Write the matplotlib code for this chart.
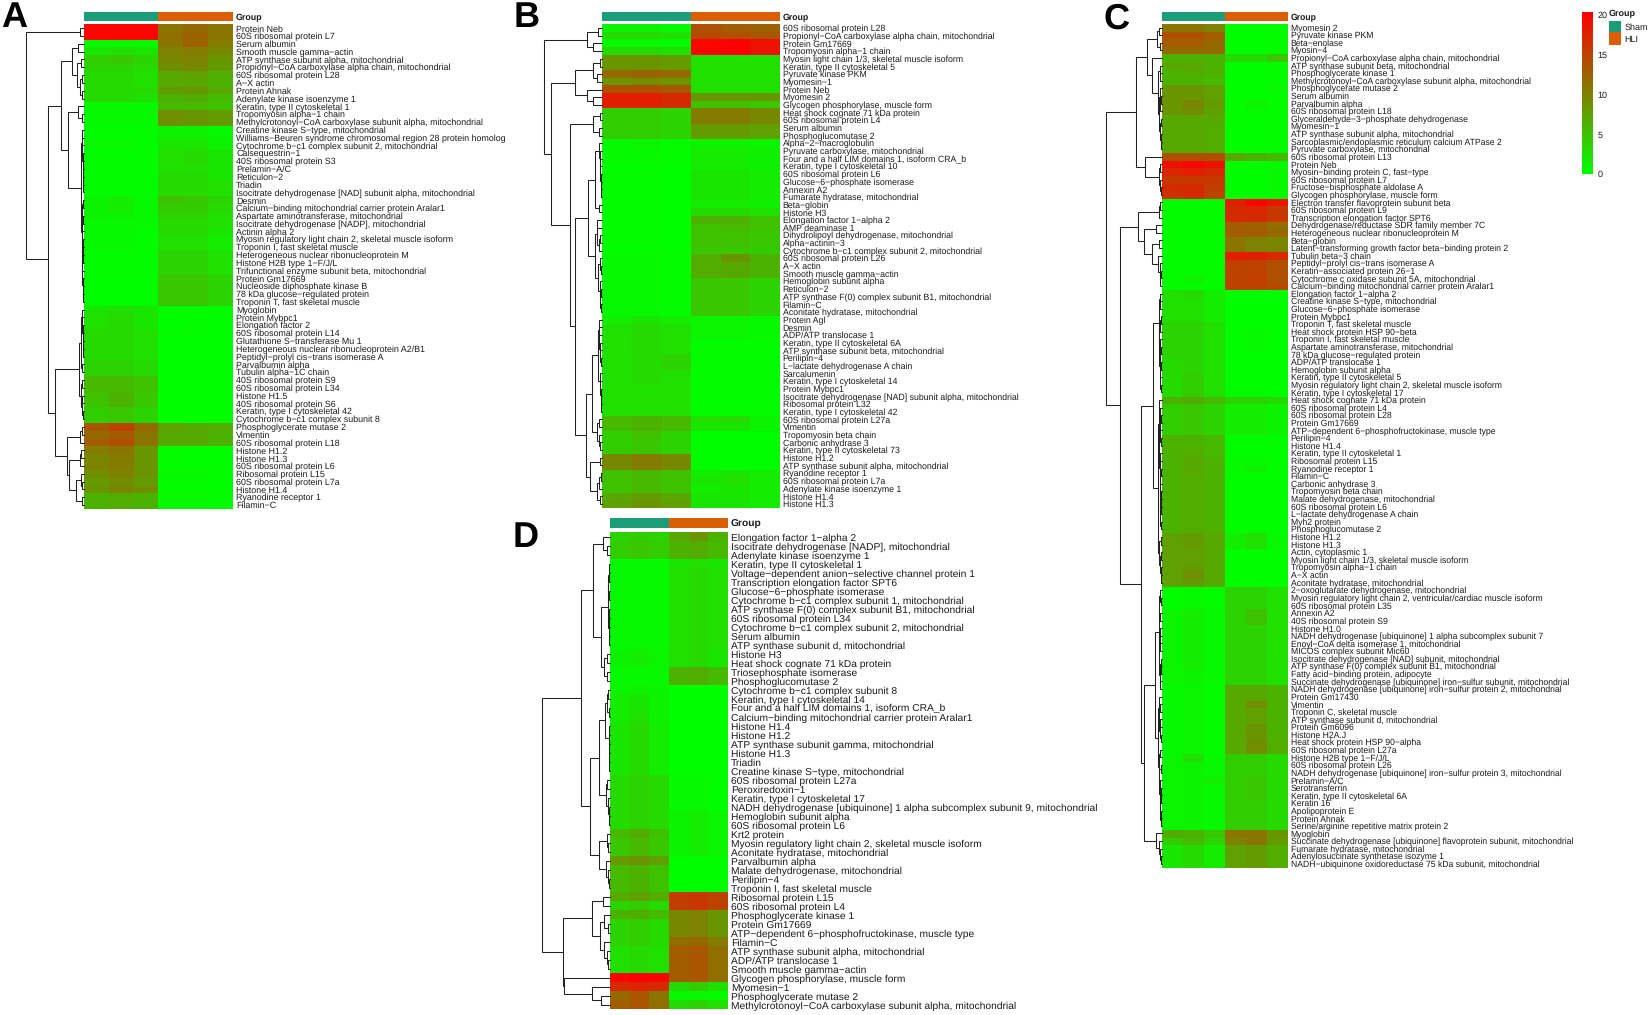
import matplotlib
matplotlib.use("Agg")
import matplotlib.pyplot as plt
from matplotlib.colors import LinearSegmentedColormap, ListedColormap
import numpy as np

W, H = 1649, 1015
plt.rcParams['font.family'] = ['Liberation Sans', 'DejaVu Sans']
plt.rcParams['text.hinting'] = 'none'

GROUPS = ["Sham", "HLI"]
GROUP_COLORS = ["#1B9E77", "#D95F02"]
CBAR_TICKS = [0, 5, 10, 15, 20]

# Panel A
labels_a = [
    "Protein Neb", "60S ribosomal protein L7", "Serum albumin", "Smooth muscle gamma-actin",
    "ATP synthase subunit alpha, mitochondrial", "Propionyl-CoA carboxylase alpha chain, mitochondrial",
    "60S ribosomal protein L28", "A-X actin", "Protein Ahnak", "Adenylate kinase isoenzyme 1",
    "Keratin, type II cytoskeletal 1", "Tropomyosin alpha-1 chain",
    "Methylcrotonoyl-CoA carboxylase subunit alpha, mitochondrial", "Creatine kinase S-type, mitochondrial",
    "Williams-Beuren syndrome chromosomal region 28 protein homolog",
    "Cytochrome b-c1 complex subunit 2, mitochondrial", "Calsequestrin-1", "40S ribosomal protein S3",
    "Prelamin-A/C", "Reticulon-2", "Triadin", "Isocitrate dehydrogenase [NAD] subunit alpha, mitochondrial",
    "Desmin", "Calcium-binding mitochondrial carrier protein Aralar1", "Aspartate aminotransferase, mitochondrial",
    "Isocitrate dehydrogenase [NADP], mitochondrial", "Actinin alpha 2",
    "Myosin regulatory light chain 2, skeletal muscle isoform", "Troponin I, fast skeletal muscle",
    "Heterogeneous nuclear ribonucleoprotein M", "Histone H2B type 1-F/J/L",
    "Trifunctional enzyme subunit beta, mitochondrial", "Protein Gm17669", "Nucleoside diphosphate kinase B",
    "78 kDa glucose-regulated protein", "Troponin T, fast skeletal muscle", "Myoglobin", "Protein Mybpc1",
    "Elongation factor 2", "60S ribosomal protein L14", "Glutathione S-transferase Mu 1",
    "Heterogeneous nuclear ribonucleoprotein A2/B1", "Peptidyl-prolyl cis-trans isomerase A", "Parvalbumin alpha",
    "Tubulin alpha-1C chain", "40S ribosomal protein S9", "60S ribosomal protein L34", "Histone H1.5",
    "40S ribosomal protein S6", "Keratin, type I cytoskeletal 42", "Cytochrome b-c1 complex subunit 8",
    "Phosphoglycerate mutase 2", "Vimentin", "60S ribosomal protein L18", "Histone H1.2", "Histone H1.3",
    "60S ribosomal protein L6", "Ribosomal protein L15", "60S ribosomal protein L7a", "Histone H1.4",
    "Ryanodine receptor 1", "Filamin-C",
]
values_a = [
    [20, 20, 20, 11, 12, 11], [20, 20, 20, 11.5, 12.5, 11], [.5, .5, .5, 11, 12.5, 10.5], [2, 2.5, 2, 10, 10.5, 9.5],
    [4, 4.5, 3.5, 9.5, 10, 8.5], [3.5, 3.5, 3, 9, 9.5, 8], [3, 3, 2.5, 7, 7.5, 6.5], [3, 3, 2.5, 7, 7, 6],
    [3, 3, 3, 8, 8.5, 7], [3, 3, 2.5, 6, 6.5, 5.5], [.5, .5, .5, 5.5, 5.5, 5], [.5, .5, .5, 9, 8.5, 8],
    [.5, .5, .5, 9, 8.5, 8], [.3, .3, .3, 1, 1, .5], [.3, .3, .3, 1.5, 1.5, .8], [.5, .5, .3, 2, 2, 1],
    [.3, .3, .3, 2.5, 3, 2], [.3, .3, .3, 2.5, 3, 2], [.3, .3, .3, 2.5, 2.5, 2], [.3, .3, .3, 3, 3, 2],
    [.3, .3, .3, 3, 3, 2.5], [.3, .3, .3, 3, 3, 2.5], [1, 1.5, .5, 5, 4.5, 3.5], [1, 1.5, .5, 4, 4, 3],
    [1, 1, .5, 3.5, 3.5, 2.5], [.5, .5, .5, 3, 3, 2.5], [.5, .5, .3, 3, 3, 2], [.5, .5, .3, 2.5, 2.5, 1.5],
    [.5, .5, .3, 2.5, 2.5, 1.5], [.3, .3, .3, 3.5, 3.5, 2.5], [.3, .3, .3, 3.5, 3.5, 2.5], [.3, .3, .3, 3.5, 3.5, 2.5],
    [.2, .2, .2, 4.5, 4.5, 3.5], [.2, .2, .2, 4.5, 4.5, 3.5], [.2, .2, .2, 4.5, 4.5, 3.5], [.2, .2, .2, 4.5, 4.5, 3.5],
    [2, 2.5, 2, .2, .2, .2], [2.5, 3, 2, .2, .2, .2], [2.5, 3, 2, .2, .3, .2], [3, 3, 2.5, .3, .3, .2],
    [3, 3, 2.5, .2, .2, .2], [3, 3, 2.5, .2, .2, .2], [3, 3, 2.5, .2, .2, .2], [3.5, 3.5, 3, .2, .2, .2],
    [3.5, 3.5, 3, .2, .2, .2], [5.5, 5.5, 5, .2, .2, .2], [5.5, 5.5, 5, .2, .2, .2], [5, 6, 4.5, .2, .2, .2],
    [5, 6, 4.5, .2, .2, .2], [4, 4.5, 3.5, .2, .2, .2], [4, 4.5, 3.5, .2, .2, .2],
    [13.5, 15, 12, 7.5, 7, 6.5], [12, 13, 11, 7, 7, 6], [13, 14, 11, 7, 7, 6], [10.5, 11, 8.5, .3, .2, .2],
    [9.5, 10.5, 8.5, .3, .2, .2], [10, 10.5, 8.5, .3, .2, .2], [9, 10, 8.5, .5, .5, .3], [8, 9, 8, .3, .3, .2],
    [8.5, 9.5, 9, .3, .3, .2], [6, 6.5, 6, .5, .5, .3], [6, 6.5, 6, .5, .5, .3],
]
gaps_a = [
    .07, 1.0, .1, .21, .05, .12, .03, .07, .03, .39, .11, .04, .28, .03, .035, .03, .025, .02, .018, .015, .012,
    .06, .025, .03, .02, .04, .03, .02, .025, .02, .028, .03, .02, .015, .01, .62, .03, .03, .025, .02, .018, .015,
    .06, .035, .08, .03, .05, .03, .035, .02, .5, .04, .07, .3, .05, .07, .25, .05, .03, .13, .04,
]

# Panel B
labels_b = [
    "60S ribosomal protein L28", "Propionyl-CoA carboxylase alpha chain, mitochondrial", "Protein Gm17669",
    "Tropomyosin alpha-1 chain", "Myosin light chain 1/3, skeletal muscle isoform", "Keratin, type II cytoskeletal 5",
    "Pyruvate kinase PKM", "Myomesin-1", "Protein Neb", "Myomesin 2", "Glycogen phosphorylase, muscle form",
    "Heat shock cognate 71 kDa protein", "60S ribosomal protein L4", "Serum albumin", "Phosphoglucomutase 2",
    "Alpha-2-macroglobulin", "Pyruvate carboxylase, mitochondrial", "Four and a half LIM domains 1, isoform CRA_b",
    "Keratin, type I cytoskeletal 10", "60S ribosomal protein L6", "Glucose-6-phosphate isomerase", "Annexin A2",
    "Fumarate hydratase, mitochondrial", "Beta-globin", "Histone H3", "Elongation factor 1-alpha 2", "AMP deaminase 1",
    "Dihydrolipoyl dehydrogenase, mitochondrial", "Alpha-actinin-3", "Cytochrome b-c1 complex subunit 2, mitochondrial",
    "60S ribosomal protein L26", "A-X actin", "Smooth muscle gamma-actin", "Hemoglobin subunit alpha", "Reticulon-2",
    "ATP synthase F(0) complex subunit B1, mitochondrial", "Filamin-C", "Aconitate hydratase, mitochondrial",
    "Protein Agl", "Desmin", "ADP/ATP translocase 1", "Keratin, type II cytoskeletal 6A",
    "ATP synthase subunit beta, mitochondrial", "Perilipin-4", "L-lactate dehydrogenase A chain", "Sarcalumenin",
    "Keratin, type I cytoskeletal 14", "Protein Mybpc1", "Isocitrate dehydrogenase [NAD] subunit alpha, mitochondrial",
    "Ribosomal protein L32", "Keratin, type I cytoskeletal 42", "60S ribosomal protein L27a", "Vimentin",
    "Tropomyosin beta chain", "Carbonic anhydrase 3", "Keratin, type II cytoskeletal 73", "Histone H1.2",
    "ATP synthase subunit alpha, mitochondrial", "Ryanodine receptor 1", "60S ribosomal protein L7a",
    "Adenylate kinase isoenzyme 1", "Histone H1.4", "Histone H1.3",
]
values_b = [
    [1, 1, .5, 14, 13, 12.5], [3, 3, 2.5, 14.5, 14, 13.5], [.5, .5, .3, 20, 20.4, 19], [3, 3, 2.5, 20, 20.4, 19],
    [8.5, 8.5, 8, 2.5, 2.5, 2.5], [8.5, 8.5, 8, 2.5, 2.5, 2.5], [12, 12.5, 12, 2.5, 2.5, 2.5], [8.5, 9, 8.5, 2.5, 2.5, 2.5],
    [14, 14, 13.5, 2.5, 2.5, 2.5], [18, 18, 17, 8.5, 8.5, 8.5], [18, 18, 17, 5, 5, 4.5],
    [4, 4, 3.5, 10.5, 10.5, 9.5], [4, 4, 3.5, 10.5, 10.5, 9.5], [4, 4, 3.5, 8, 8, 7.5], [4, 4, 3.5, 8, 8, 7.5],
    [.5, .8, .3, 1, 1, .8], [.5, .5, .3, 1.5, 1.5, 1.2], [.5, .5, .3, 1.5, 1.5, 1.2], [.3, .3, .2, 1.5, 1.5, 1.2],
    [.3, .3, .2, 2, 2, 1.5], [.3, .3, .2, 2, 2, 1.5], [.3, .3, .2, 2, 2, 1.5], [.3, .3, .2, 2, 2, 1.5],
    [.3, .3, .2, 1.5, 1.5, 1.2], [.3, .3, .2, 3, 3, 2.5], [.3, .3, .2, 6, 6, 5], [.3, .3, .2, 5, 5.5, 5],
    [.3, .3, .2, 5, 5, 4.5], [.3, .3, .2, 5, 5, 4.5], [.3, .3, .2, 4.5, 4.5, 4], [.5, .5, .3, 6.5, 8.5, 6],
    [.5, .5, .3, 6.5, 7, 6], [.5, .5, .3, 6.5, 7, 6], [.5, .5, .3, 4.5, 4.5, 3.5], [.5, .5, .3, 4.5, 4.5, 3.5],
    [.5, .5, .3, 4.5, 4.5, 3.5], [.5, .5, .3, 4.5, 4.5, 3.5], [.5, .5, .3, 4.5, 4.5, 3.5], [1.5, 2, 1.5, .8, .8, .5],
    [2.5, 3, 2.5, .8, .8, .5], [2.5, 3, 2.5, .8, .8, .5], [2.5, 3, 2.5, .3, .3, .3], [2.5, 3, 2.5, .3, .3, .3],
    [2.5, 3, 3.5, .3, .3, .3], [2.5, 3, 3.5, .3, .3, .3], [2.5, 3, 2.5, .3, .3, .3], [2.5, 3, 2.5, .3, .3, .3],
    [2.5, 2.5, 2.5, .3, .3, .3], [2.5, 2.5, 2.5, .3, .3, .3], [2.5, 2.5, 2.5, .3, .3, .3], [2.5, 2.5, 2.5, .3, .3, .3],
    [5.5, 6, 5.5, 2.5, 3, 1], [5.5, 6, 5.5, 2, 2, 1], [4, 5, 3.5, .2, .2, .2], [4, 4.5, 3.5, .2, .2, .2],
    [4, 4.5, 3.5, .2, .2, .2], [9.5, 10.5, 9.5, .2, .2, .2], [9.5, 10.5, 9.5, .2, .2, .2], [5, 5.5, 5, 1.5, 2, 1.5],
    [5, 5.5, 5, 2, 2.5, 1.5], [5, 5.5, 5, 1.5, 2, 1.5], [7, 8, 7, 2, 2, 1.5], [7.5, 8.5, 7.5, 2, 2, 1.5],
]
gaps_b = [
    .06, .26, .16, 1.0, .03, .16, .08, .46, .26, .16, .89, .03, .15, .05, .56, .05, .035, .03, .025, .02, .018, .015,
    .11, .05, .24, .08, .09, .03, .05, .12, .03, .02, .06, .03, .02, .03, .015, .47, .05, .04, .05, .035, .03, .02,
    .06, .03, .025, .02, .015, .012, .17, .04, .09, .04, .03, .28, .035, .2, .02, .04, .08, .03,
]

# Panel C
labels_c = [
    "Myomesin 2", "Pyruvate kinase PKM", "Beta-enolase", "Myosin-4", "Propionyl-CoA carboxylase alpha chain, mitochondrial",
    "ATP synthase subunit beta, mitochondrial", "Phosphoglycerate kinase 1",
    "Methylcrotonoyl-CoA carboxylase subunit alpha, mitochondrial", "Phosphoglycerate mutase 2", "Serum albumin",
    "Parvalbumin alpha", "60S ribosomal protein L18", "Glyceraldehyde-3-phosphate dehydrogenase", "Myomesin-1",
    "ATP synthase subunit alpha, mitochondrial", "Sarcoplasmic/endoplasmic reticulum calcium ATPase 2",
    "Pyruvate carboxylase, mitochondrial", "60S ribosomal protein L13", "Protein Neb", "Myosin-binding protein C, fast-type",
    "60S ribosomal protein L7", "Fructose-bisphosphate aldolase A", "Glycogen phosphorylase, muscle form",
    "Electron transfer flavoprotein subunit beta", "60S ribosomal protein L9", "Transcription elongation factor SPT6",
    "Dehydrogenase/reductase SDR family member 7C", "Heterogeneous nuclear ribonucleoprotein M", "Beta-globin",
    "Latent-transforming growth factor beta-binding protein 2", "Tubulin beta-3 chain",
    "Peptidyl-prolyl cis-trans isomerase A", "Keratin-associated protein 26-1",
    "Cytochrome c oxidase subunit 5A, mitochondrial", "Calcium-binding mitochondrial carrier protein Aralar1",
    "Elongation factor 1-alpha 2", "Creatine kinase S-type, mitochondrial", "Glucose-6-phosphate isomerase",
    "Protein Mybpc1", "Troponin T, fast skeletal muscle", "Heat shock protein HSP 90-beta",
    "Troponin I, fast skeletal muscle", "Aspartate aminotransferase, mitochondrial", "78 kDa glucose-regulated protein",
    "ADP/ATP translocase 1", "Hemoglobin subunit alpha", "Keratin, type II cytoskeletal 5",
    "Myosin regulatory light chain 2, skeletal muscle isoform", "Keratin, type I cytoskeletal 17",
    "Heat shock cognate 71 kDa protein", "60S ribosomal protein L4", "60S ribosomal protein L28", "Protein Gm17669",
    "ATP-dependent 6-phosphofructokinase, muscle type", "Perilipin-4", "Histone H1.4", "Keratin, type II cytoskeletal 1",
    "Ribosomal protein L15", "Ryanodine receptor 1", "Filamin-C", "Carbonic anhydrase 3", "Tropomyosin beta chain",
    "Malate dehydrogenase, mitochondrial", "60S ribosomal protein L6", "L-lactate dehydrogenase A chain", "Myh2 protein",
    "Phosphoglucomutase 2", "Histone H1.2", "Histone H1.3", "Actin, cytoplasmic 1",
    "Myosin light chain 1/3, skeletal muscle isoform", "Tropomyosin alpha-1 chain", "A-X actin",
    "Aconitate hydratase, mitochondrial", "2-oxoglutarate dehydrogenase, mitochondrial",
    "Myosin regulatory light chain 2, ventricular/cardiac muscle isoform", "60S ribosomal protein L35", "Annexin A2",
    "40S ribosomal protein S9", "Histone H1.0", "NADH dehydrogenase [ubiquinone] 1 alpha subcomplex subunit 7",
    "Enoyl-CoA delta isomerase 1, mitochondrial", "MICOS complex subunit Mic60",
    "Isocitrate dehydrogenase [NAD] subunit, mitochondrial", "ATP synthase F(0) complex subunit B1, mitochondrial",
    "Fatty acid-binding protein, adipocyte", "Succinate dehydrogenase [ubiquinone] iron-sulfur subunit, mitochondrial",
    "NADH dehydrogenase [ubiquinone] iron-sulfur protein 2, mitochondrial", "Protein Gm17430", "Vimentin",
    "Troponin C, skeletal muscle", "ATP synthase subunit d, mitochondrial", "Protein Gm6096", "Histone H2A.J",
    "Heat shock protein HSP 90-alpha", "60S ribosomal protein L27a", "Histone H2B type 1-F/J/L",
    "60S ribosomal protein L26", "NADH dehydrogenase [ubiquinone] iron-sulfur protein 3, mitochondrial", "Prelamin-A/C",
    "Serotransferrin", "Keratin, type II cytoskeletal 6A", "Keratin 16", "Apolipoprotein E", "Protein Ahnak",
    "Serine/arginine repetitive matrix protein 2", "Myoglobin",
    "Succinate dehydrogenase [ubiquinone] flavoprotein subunit, mitochondrial", "Fumarate hydratase, mitochondrial",
    "Adenylosuccinate synthetase isozyme 1", "NADH-ubiquinone oxidoreductase 75 kDa subunit, mitochondrial",
]
values_c = [
    [11, 11, 10, .2, .2, .3], [14, 14, 13, .2, .2, .3], [13, 13, 12, .2, .2, .3], [12, 12, 12, .2, .2, .3],
    [6, 6, 6, 3, 3, 4.5], [7, 7, 6, .2, .2, .3], [6, 6.5, 6, .2, .2, .3], [6, 6, 5.5, .2, .2, .3],
    [8.5, 8.5, 7.5, .2, .2, .5], [8.5, 8.5, 7.5, .2, .2, .3], [8.5, 9.5, 8, .3, 1, .3], [8.5, 9, 7.5, .2, .5, .3],
    [7, 7, 7, .2, .2, .3], [7, 7, 6.5, .2, .2, .3], [7, 7, 6.5, .2, .2, .3], [7, 7, 6.5, .2, .2, .3], [7, 7, 6.5, .2, .2, .3],
    [14, 14, 14, 7, 6, 5.5], [19, 20, 19, .2, .2, .5], [17.5, 18, 17, .2, .2, .5], [16, 16, 16, .2, .2, .5],
    [17, 17, 15.5, .2, .2, .5], [16.5, 17, 15, .2, .2, .5],
    [.3, .3, .3, 18, 20, 18.5], [.3, .3, .3, 17, 17.5, 16], [.3, .3, .3, 17, 17, 16], [.3, .3, .3, 13, 12.5, 11.5],
    [.3, .3, .3, 13, 13, 12], [.3, .3, .3, 11, 10, 9.5], [.3, .3, .3, 11, 10, 10], [.3, .3, .3, 18, 18, 17],
    [.3, .3, .3, 15.5, 15, 14], [.3, .3, .3, 15, 15, 14], [.3, 1, .3, 15, 15.5, 14], [.3, .3, .3, 15, 15, 14.5],
    [2.5, 3, 1.5, .2, .2, .2], [2.5, 2.5, 1.5, .2, .2, .2], [2.5, 2.5, 1.5, .2, .2, .2], [2.5, 2.5, 1.5, .2, .2, .2],
    [3.5, 3.5, 2.5, .2, .2, .2], [3.5, 3.5, 2.5, .2, .5, .2], [3.5, 3.5, 2.5, .2, .5, .2], [3.5, 3.5, 2.5, .2, .5, .2],
    [3.5, 3.5, 2.5, .2, .2, .2], [3, 3.5, 2.5, .2, .2, .2], [3, 3.5, 2.5, .2, .2, .2], [3, 4, 2.5, .2, .2, .2],
    [3, 4, 2.5, .2, .2, .2], [3, 4, 2.5, .2, .2, .2], [6, 6.5, 5.5, 3.5, 3.5, 3], [4, 4.5, 3.5, 1.5, 1.5, 1],
    [4, 4.5, 3.5, 1.5, 1.5, 1], [4, 4.5, 3.5, 1.5, 1.5, 1], [4, 4.5, 3.5, 1.5, 1.5, 1], [6, 6, 5.5, .2, .2, .2],
    [6, 6, 5.5, .2, .2, .2], [6, 6.5, 5.5, .2, .2, .2], [6, 7, 6, .5, .5, .2], [6, 7, 6, .5, 1, .2], [6, 6.5, 6, .2, .2, .2],
    [6, 6.5, 6, .2, .2, .2], [6, 6.5, 6, .2, .2, .2], [6, 6.5, 6, .2, .2, .2], [6, 6.5, 6, .2, .2, .2], [6, 6.5, 6, .2, .2, .2],
    [6, 6.5, 6, .2, .2, .2], [6, 6.5, 6, .2, .2, .2], [7.5, 8, 7, 1.5, 2.5, .5], [7.5, 8, 7, 1.5, 2.5, .5],
    [7.5, 7.5, 7, .2, .2, .2], [7.5, 7.5, 7, .2, .2, .2], [7.5, 8, 7, .2, .2, .2], [7.5, 9, 7, .2, .2, .2], [7.5, 8, 7, .2, .2, .2],
    [.2, .2, .2, 3.5, 3.5, 2.5], [.2, .5, .2, 3.5, 3.5, 2.5], [.2, .5, .2, 3.5, 3.5, 2.5], [.8, 1.5, .5, 3.5, 5, 2.5],
    [.8, 1.5, .5, 3.5, 5, 2.5], [.8, 1.5, .5, 3.5, 3.5, 2.5], [.8, 1.5, .5, 3.5, 3.5, 2.5], [.8, 1.5, .5, 3.5, 3.5, 2.5],
    [.8, 1.5, .5, 3.5, 3.5, 2.5], [.8, 1.5, .5, 3.5, 3.5, 2.5], [.8, 1.5, .5, 3.5, 3.5, 2.5], [.8, 1, .5, 3.5, 3.5, 2.5],
    [.8, 1, .5, 3.5, 3.5, 2.5], [.5, .8, .3, 7, 7, 6], [.5, .8, .3, 7, 7, 6], [.5, .8, .3, 7, 9, 6], [.5, .8, .3, 7, 7.5, 6],
    [.5, .8, .3, 7, 7.5, 6], [.5, .8, .3, 7, 8.5, 6], [.5, .8, .3, 7, 8.5, 6], [.5, .8, .3, 7, 9, 6.5], [.5, .8, .3, 7, 9, 6.5],
    [.8, 2.5, .5, 4, 4, 3], [.8, 1, .5, 4, 4, 3], [.8, 1, .5, 4, 4, 3], [.8, 1, 1.5, 4, 4.5, 3], [.8, 1, .5, 4, 4.5, 3],
    [.8, 1, .5, 4, 4.5, 3], [.8, 1, .5, 4, 4, 3], [.8, 1, .5, 4, 4, 3], [.8, 1, .5, 4, 4, 3], [.8, 1, .5, 4, 4, 3],
    [6.5, 6, 4.5, 11, 11, 8.5], [4, 5.5, 3.5, 10, 11, 8], [2, 3, 1.5, 7.5, 8, 6.5], [2, 3, 1.5, 7.5, 8, 6.5], [2, 3, 1.5, 7.5, 8, 6.5],
]
gaps_c = [
    .06, .09, .03, .26, .17, .04, .03, .07, .03, .02, .03, .05, .02, .03, .02, .015, .47, .31, .03, .05, .03, .02,
    1.0, .03, .05, .42, .1, .32, .05, .17, .08, .04, .02, .03, .75,
    .04, .03, .05, .025, .03, .05, .035, .025, .03, .02, .04, .03, .02, .16,
    .05, .03, .02, .03, .04, .025, .05, .035, .03, .025, .035, .03, .02, .025, .02, .03, .025, .07, .02, .05, .025, .03, .02, .015,
    .38, .03, .025, .05, .035, .06, .03, .04, .03, .05, .025, .02, .035, .03, .13,
    .06, .03, .05, .03, .04, .025, .07, .03, .06, .02, .05, .035, .025, .02, .03, .018, .022, .32,
    .1, .06, .035, .02,
]

# Panel D
labels_d = [
    "Elongation factor 1-alpha 2", "Isocitrate dehydrogenase [NADP], mitochondrial", "Adenylate kinase isoenzyme 1",
    "Keratin, type II cytoskeletal 1", "Voltage-dependent anion-selective channel protein 1",
    "Transcription elongation factor SPT6", "Glucose-6-phosphate isomerase",
    "Cytochrome b-c1 complex subunit 1, mitochondrial", "ATP synthase F(0) complex subunit B1, mitochondrial",
    "60S ribosomal protein L34", "Cytochrome b-c1 complex subunit 2, mitochondrial", "Serum albumin",
    "ATP synthase subunit d, mitochondrial", "Histone H3", "Heat shock cognate 71 kDa protein",
    "Triosephosphate isomerase", "Phosphoglucomutase 2", "Cytochrome b-c1 complex subunit 8",
    "Keratin, type I cytoskeletal 14", "Four and a half LIM domains 1, isoform CRA_b",
    "Calcium-binding mitochondrial carrier protein Aralar1", "Histone H1.4", "Histone H1.2",
    "ATP synthase subunit gamma, mitochondrial", "Histone H1.3", "Triadin", "Creatine kinase S-type, mitochondrial",
    "60S ribosomal protein L27a", "Peroxiredoxin-1", "Keratin, type I cytoskeletal 17",
    "NADH dehydrogenase [ubiquinone] 1 alpha subcomplex subunit 9, mitochondrial", "Hemoglobin subunit alpha",
    "60S ribosomal protein L6", "Krt2 protein", "Myosin regulatory light chain 2, skeletal muscle isoform",
    "Aconitate hydratase, mitochondrial", "Parvalbumin alpha", "Malate dehydrogenase, mitochondrial", "Perilipin-4",
    "Troponin I, fast skeletal muscle", "Ribosomal protein L15", "60S ribosomal protein L4", "Phosphoglycerate kinase 1",
    "Protein Gm17669", "ATP-dependent 6-phosphofructokinase, muscle type", "Filamin-C",
    "ATP synthase subunit alpha, mitochondrial", "ADP/ATP translocase 1", "Smooth muscle gamma-actin",
    "Glycogen phosphorylase, muscle form", "Myomesin-1", "Phosphoglycerate mutase 2",
    "Methylcrotonoyl-CoA carboxylase subunit alpha, mitochondrial",
]
values_d = [
    [3.5, 4, 3.5, 7, 8.5, 6], [4, 4.5, 4, 6, 6.5, 5.5], [4, 4.5, 4, 6, 6.5, 5.5], [.5, .5, .5, 2, 2.5, 2],
    [.5, .5, .5, 2.5, 3, 2.5], [.5, .5, .5, 2.5, 3, 2.5], [.5, .5, .5, 2.5, 3, 2.5], [.5, .5, .5, 2.5, 3, 2.5],
    [.5, .5, .5, 2.5, 3, 2.5], [.5, .5, .5, 2.5, 3, 2.5], [.5, .5, .5, 2.5, 3, 2.5], [.5, .5, .5, 2.5, 3, 2.5],
    [.5, .5, .5, 2.5, 3, 2.5], [1, 1.5, .8, 2.5, 3, 2], [1, 1.5, .8, 2.5, 3, 2], [.5, .5, .5, 6, 6.5, 5.5],
    [.5, .5, .5, 6, 6.5, 5.5], [.8, 1, .8, .2, .2, .2], [1.5, 2, 1, .2, .2, .2], [1.5, 2, 1, .2, .2, .2],
    [1.5, 2.5, 1, .2, .2, .2], [2, 3, 1.5, .2, .2, .2], [2, 3, 1.5, .2, .2, .2], [2, 3, 1.5, .2, .2, .2],
    [2, 3, 1.5, .2, .2, .2], [2, 3, 1.5, .2, .2, .2], [2, 3, 1.5, .2, .2, .2], [3, 3.5, 3, .5, .5, .2],
    [3, 3.5, 3, .5, .5, .2], [3, 3.5, 3, .5, .5, .2], [3, 3.5, 3, .5, .5, .2], [3, 3.5, 3, 1, 1.5, .8],
    [3, 3.5, 3, 1, 1.5, .8], [5.5, 6.5, 5, 1, 1.5, .8], [4.5, 5.5, 4.5, 1, 1.5, .8], [4.5, 5.5, 4.5, 1, 1.5, .8],
    [8, 8.5, 7.5, .2, .2, .2], [5.5, 6, 5, .2, .2, .2], [5.5, 6, 5, .2, .2, .2], [5.5, 6, 5, .2, .2, .2],
    [7, 7.5, 6.5, 15.5, 16, 15], [3.5, 4, 3, 15.5, 16, 15], [6, 6.5, 5.5, 9.5, 10, 8.5], [3.5, 4, 3, 9.5, 10, 8.5],
    [3.5, 4, 3, 9.5, 10, 8.5], [3.5, 4, 3, 11.5, 12, 10.5], [2.5, 3, 2.5, 13, 13.5, 11.5], [2.5, 3, 2.5, 13, 13.5, 11.5],
    [2.5, 3, 2.5, 13, 13.5, 11.5], [20, 20.4, 20, 13, 13.5, 11.5], [17, 17.5, 17, 3, 4, 2.5], [12, 13.5, 11, .5, .5, .3],
    [13, 13.5, 11.5, 3, 3.5, 2.5],
]
gaps_d = [
    .1, .04, .25, .015, .02, .025, .02, .03, .018, .015, .02, .012, .14, .05, .09, .04, .43, .03, .05, .02, .08, .02,
    .015, .02, .015, .012, .16, .04, .06, .03, .02, .015, .3, .05, .03, .16, .06, .03, .02, 1.0, .11, .26, .09, .03,
    .15, .09, .05, .03, .69, .68, .27, .14,
]

# green to red, as in the key at top right
cmap = LinearSegmentedColormap.from_list("gr", ["#00FF00", "#FF0000"])
VMAX = 20.4
fig = plt.figure(figsize=(W / 100, H / 100), dpi=100, facecolor="white")


def px_axes(x0, y0, x1, y1):
    return fig.add_axes([x0 / W, 1 - y1 / H, (x1 - x0) / W, (y1 - y0) / H])


def draw_tree(ax, gaps, lo, hi):
    # split the rows at their tallest neighbour gap, so the order of leaves stays as it is
    if lo == hi:
        return lo, 0.0
    k = lo + int(np.argmax(gaps[lo:hi]))
    h = gaps[k]
    y1, h1 = draw_tree(ax, gaps, lo, k)
    y2, h2 = draw_tree(ax, gaps, k + 1, hi)
    ax.plot([h1, h, h, h2], [y1, y1, y2, y2], color="#222222", lw=0.75, solid_joinstyle="miter",
            clip_on=False)
    return (y1 + y2) / 2, h


def heatmap(labels, values, gaps, heat, tree_left, top, bottom, bar, fs, letter, letter_xy):
    x0, x1 = heat
    n = len(labels)
    assert len(values) == n and len(gaps) == n - 1, (letter, len(values), len(gaps), n)
    data = np.array(values, dtype=float)

    ax = px_axes(x0, top, x1, bottom)
    im = ax.imshow(data, cmap=cmap, vmin=0, vmax=VMAX, aspect="auto", interpolation="nearest")
    ax.yaxis.tick_right()
    ax.set_yticks(range(n), [s.replace("-", "\u2212") for s in labels], fontsize=fs, color="#1a1a1a")
    ax.tick_params(axis="y", length=0, pad=2.2)
    ax.set_xticks([])
    for s in ax.spines.values():
        s.set_visible(False)

    # bar of groups above the heat cells; three samples in each group
    bx = px_axes(x0, bar[0], x1, bar[1])
    bx.imshow([[0, 0, 0, 1, 1, 1]], cmap=ListedColormap(GROUP_COLORS), aspect="auto", interpolation="nearest")
    bx.set_xticks([])
    bx.yaxis.tick_right()
    bx.set_yticks([0], ["Group"], fontsize=fs, fontweight="bold", color="#1a1a1a")
    bx.tick_params(axis="y", length=0, pad=2.2)
    for s in bx.spines.values():
        s.set_visible(False)

    tx = px_axes(tree_left, top, x0, bottom)
    tx.set_xlim(1, 0)
    tx.set_ylim(n - 0.5, -0.5)
    tx.axis("off")
    draw_tree(tx, gaps, 0, n - 1)

    fig.text(letter_xy[0] / W, 1 - letter_xy[1] / H, letter, fontsize=letter_xy[2], fontweight="bold",
             ha="left", va="center", color="black")
    return im


im = heatmap(labels_a, values_a, gaps_a, (84, 233), 25.7, 24.3, 509, (12, 21), 6.41, "A", (1, 18, 26))
heatmap(labels_b, values_b, gaps_b, (601.7, 779.7), 544.3, 24.3, 507.7, (12, 21), 6.31, "B", (514, 18, 26))
heatmap(labels_c, values_c, gaps_c, (1162, 1287.5), 1106, 23.7, 867.7, (12.3, 21), 6.22, "C", (1104, 19, 26))
heatmap(labels_d, values_d, gaps_d, (610, 728), 542.5, 532.3, 1009.3, (518.3, 528.3), 7.39, "D", (513, 538, 26))

# colour key and group legend
cax = px_axes(1582, 11.7, 1593, 174)
cb = fig.colorbar(im, cax=cax, ticks=CBAR_TICKS)
cb.outline.set_visible(False)
cb.ax.tick_params(length=0, labelsize=6.5, pad=3, colors="#1a1a1a")

lax = px_axes(1609, 20.7, 1621, 45)
lax.imshow([[0], [1]], cmap=ListedColormap(GROUP_COLORS), aspect="auto", interpolation="nearest")
lax.set_xticks([])
lax.yaxis.tick_right()
lax.set_yticks([0, 1], GROUPS, fontsize=6.5, color="#1a1a1a")
lax.tick_params(axis="y", length=0, pad=2.5)
for s in lax.spines.values():
    s.set_visible(False)
fig.text(1609 / W, 1 - 14 / H, "Group", fontsize=6.5, fontweight="bold", ha="left", va="center", color="#1a1a1a")

fig.savefig("out.png", dpi=100)
